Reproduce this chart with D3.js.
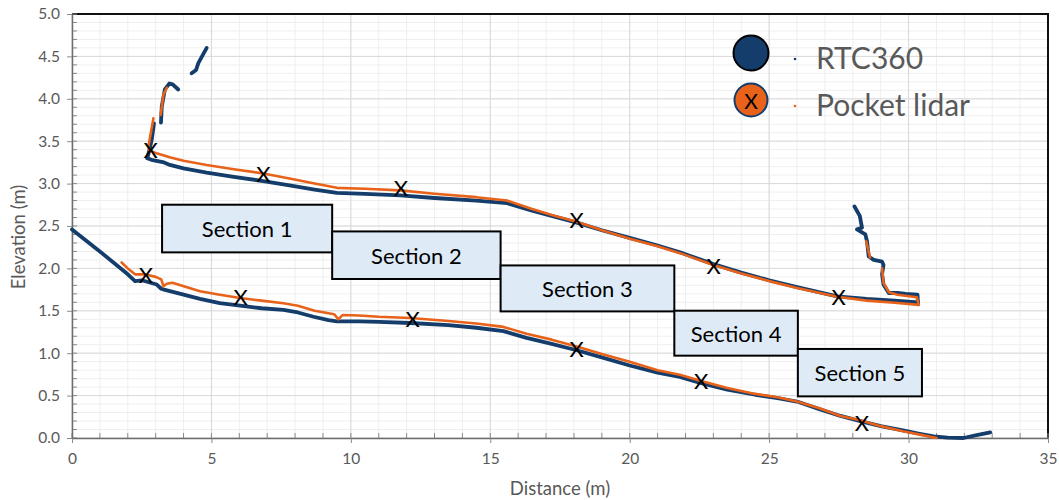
<!DOCTYPE html>
<html>
<head>
<meta charset="utf-8">
<script src="https://cdn.jsdelivr.net/npm/d3@7"></script>
<style>
  body { margin: 0; background: #fff; }
  svg { display: block; font-family: Lato, "Open Sans", sans-serif; }
</style>
</head>
<body>
<svg id="chart" width="1059" height="500"></svg>
<script>
// ---- Cross-section profiles: [distance (m), elevation (m)] ----
const rtcUpper = [[2.70,3.30],[2.85,3.28],[3.3,3.25],[3.51,3.22],[4.0,3.18],[4.83,3.13],[5.8,3.08],[6.86,3.03],[7.8,2.98],[8.7,2.93],[9.5,2.89],[10.5,2.88],[11.77,2.86],[13.0,2.83],[14.5,2.80],[15.6,2.77],[16.5,2.68],[17.3,2.61],[18.1,2.54],[19.0,2.45],[20.0,2.36],[21.0,2.27],[21.8,2.19],[23.0,2.05],[24.0,1.95],[25.0,1.86],[26.0,1.78],[27.44,1.67],[28.5,1.64],[29.5,1.62],[30.34,1.60]];
const rtcWallLeft = [[2.70,3.30],[2.78,3.40],[2.86,3.52],[2.94,3.71]];
const rtcWallMid = [[3.19,3.72],[3.22,3.91],[3.33,4.11],[3.49,4.18],[3.61,4.17],[3.81,4.11]];
const rtcWallTop = [[4.29,4.30],[4.45,4.34],[4.53,4.42],[4.83,4.60]];
const rtcWallRight = [[30.34,1.58],[30.32,1.69],[29.9,1.70],[29.6,1.71],[29.29,1.71],[29.1,1.81],[29.05,1.93],[29.1,2.04],[29.05,2.08],[28.75,2.10],[28.57,2.14],[28.51,2.32],[28.45,2.40],[28.15,2.46],[28.33,2.48],[28.25,2.62],[28.06,2.73]];
const rtcLower = [[0,2.46],[1.0,2.20],[2.0,1.93],[2.26,1.85],[2.5,1.86],[3.04,1.81],[3.2,1.76],[3.3,1.75],[4.0,1.69],[4.59,1.64],[5.3,1.59],[6.03,1.56],[6.8,1.53],[7.58,1.51],[8.1,1.48],[8.66,1.43],[9.2,1.39],[9.5,1.375],[10.3,1.375],[11.0,1.37],[12.13,1.356],[13.5,1.33],[14.5,1.30],[15.47,1.26],[16.3,1.18],[17.2,1.11],[18.1,1.035],[19.0,0.95],[20.0,0.855],[21.0,0.77],[21.8,0.72],[22.53,0.65],[23.5,0.57],[24.5,0.51],[25.3,0.47],[26.0,0.43],[26.8,0.34],[27.56,0.26],[28.27,0.20],[29.0,0.14],[29.8,0.09],[30.4,0.05],[30.9,0.02],[31.4,0.005],[31.97,0.0],[32.4,0.03],[32.93,0.066]];

const pocketUpper = [[2.75,3.40],[3.0,3.36],[3.3,3.33],[3.5,3.31],[4.0,3.27],[4.83,3.22],[5.8,3.17],[6.86,3.12],[7.8,3.06],[8.7,3.0],[9.5,2.95],[10.5,2.94],[11.77,2.92],[13.0,2.88],[14.5,2.84],[15.6,2.80],[16.5,2.70],[17.3,2.62],[18.1,2.55],[19.0,2.45],[20.0,2.35],[21.0,2.26],[21.8,2.18],[23.0,2.04],[24.0,1.94],[25.0,1.85],[26.0,1.77],[27.44,1.665],[28.5,1.62],[29.5,1.595],[30.36,1.57]];
const pocketWallLeft = [[2.74,3.44],[2.80,3.55],[2.86,3.66],[2.92,3.77]];
const pocketWallMid = [[3.18,3.81],[3.28,4.05],[3.40,4.13]];
const pocketWallRight = [[30.36,1.57],[30.3,1.66],[29.6,1.69],[29.29,1.72],[29.1,1.83],[29.05,2.0]];
const pocketWallRight2 = [[28.62,2.13],[28.55,2.22],[28.48,2.32]];
const pocketLower = [[1.78,2.07],[2.0,2.0],[2.26,1.93],[2.6,1.93],[3.0,1.90],[3.2,1.87],[3.28,1.79],[3.4,1.82],[3.6,1.83],[4.59,1.73],[5.3,1.69],[6.03,1.65],[6.8,1.62],[7.58,1.59],[8.1,1.56],[8.7,1.50],[9.4,1.46],[9.55,1.40],[9.7,1.45],[10.3,1.445],[11.0,1.43],[12.13,1.415],[13.5,1.38],[14.5,1.35],[15.47,1.31],[16.3,1.23],[17.2,1.16],[18.1,1.08],[19.0,0.99],[20.0,0.90],[21.0,0.80],[21.8,0.745],[22.53,0.675],[23.5,0.59],[24.5,0.52],[25.3,0.48],[26.0,0.43],[26.8,0.35],[27.56,0.26],[28.27,0.21],[29.0,0.14],[29.8,0.08],[30.4,0.04],[31.0,0.0]];

// Check points marked with "X"
const checkpoints = [[2.82,3.40],[6.86,3.125],[11.79,2.95],[18.1,2.575],[23.01,2.035],[27.49,1.67],
                     [2.65,1.925],[6.05,1.67],[12.22,1.415],[18.1,1.06],[22.56,0.68],[28.33,0.185]];

// Section labels and their distance ranges
const sectionNames = ["Section 1","Section 2","Section 3","Section 4","Section 5"];
const sectionStart = [3.23, 9.33, 15.37, 21.6, 26.03];
const sectionEnd   = [9.33, 15.37, 21.6, 26.03, 30.48];

const xTicks = [0,5,10,15,20,25,30,35];
const yTicks = [0,0.5,1.0,1.5,2.0,2.5,3.0,3.5,4.0,4.5,5.0];
const seriesNames = ["RTC360","Pocket lidar"];

// ---- Layout ----
const plotL = 72, plotR = 1048, plotT = 14, plotB = 438;
const BLUE = "#143d6b", ORANGE = "#e8621a", TEXT = "#595959";

const svg = d3.select("#chart");
const x = d3.scaleLinear().domain([0,35]).range([plotL,plotR]);
const y = d3.scaleLinear().domain([0,5]).range([plotB,plotT]);

// Grid: minor then major
const grid = svg.append("g");
grid.append("g").selectAll("line").data(d3.range(0,36,1)).join("line")
  .attr("x1", d => x(d)).attr("x2", d => x(d)).attr("y1", plotT).attr("y2", plotB)
  .attr("stroke", "#efefef").attr("stroke-width", 1);
grid.append("g").selectAll("line").data(d3.range(0,51,1).map(d => d/10)).join("line")
  .attr("y1", d => y(d)).attr("y2", d => y(d)).attr("x1", plotL).attr("x2", plotR)
  .attr("stroke", "#efefef").attr("stroke-width", 1);
grid.append("g").selectAll("line").data(xTicks).join("line")
  .attr("x1", d => x(d)).attr("x2", d => x(d)).attr("y1", plotT).attr("y2", plotB)
  .attr("stroke", "#d9d9d9").attr("stroke-width", 1);
grid.append("g").selectAll("line").data(yTicks).join("line")
  .attr("y1", d => y(d)).attr("y2", d => y(d)).attr("x1", plotL).attr("x2", plotR)
  .attr("stroke", "#d9d9d9").attr("stroke-width", 1);

// Plot frame (top and right)
svg.append("path")
  .attr("d", `M${plotL},${plotT}H${plotR}V${plotB}`)
  .attr("fill", "none").attr("stroke", "#111").attr("stroke-width", 2);

// Minor inward ticks
svg.append("g").selectAll("line").data(d3.range(0,51,1).map(d => d/10)).join("line")
  .attr("x1", plotL).attr("x2", plotL + 5).attr("y1", d => y(d)).attr("y2", d => y(d))
  .attr("stroke", "#8a8a8a").attr("stroke-width", 1);
svg.append("g").selectAll("line").data(d3.range(0,36,1)).join("line")
  .attr("y1", plotB).attr("y2", plotB - 5).attr("x1", d => x(d)).attr("x2", d => x(d))
  .attr("stroke", "#8a8a8a").attr("stroke-width", 1);

// Axes
const xAxis = svg.append("g").attr("transform", `translate(0,${plotB})`)
  .call(d3.axisBottom(x).tickValues(xTicks).tickSize(5).tickSizeOuter(0).tickPadding(10).tickFormat(d3.format("d")));
const yAxis = svg.append("g").attr("transform", `translate(${plotL},0)`)
  .call(d3.axisLeft(y).tickValues(yTicks).tickSize(5).tickSizeOuter(0).tickPadding(7).tickFormat(d3.format(".1f")));
[xAxis, yAxis].forEach(a => {
  a.select(".domain").attr("stroke", "#6e6e6e").attr("stroke-width", 1.5);
  a.selectAll(".tick line").attr("stroke", "#8a8a8a");
  a.selectAll(".tick text").attr("fill", TEXT).attr("font-size", 15.5).attr("font-family", "Lato, sans-serif");
});

// Axis titles
svg.append("text").attr("x", 560).attr("y", 495).attr("text-anchor", "middle")
  .attr("fill", TEXT).attr("font-size", 18.5).text("Distance (m)");
svg.append("text").attr("transform", "translate(25,237) rotate(-90)").attr("text-anchor", "middle")
  .attr("fill", TEXT).attr("font-size", 18.5).text("Elevation (m)");

// Profiles
const line = d3.line().x(d => x(d[0])).y(d => y(d[1]));
const rtcParts = [rtcUpper, rtcWallLeft, rtcWallMid, rtcWallTop, rtcWallRight, rtcLower];
const pocketParts = [pocketUpper, pocketWallLeft, pocketWallMid, pocketWallRight, pocketWallRight2, pocketLower];
svg.append("g").selectAll("path").data(rtcParts).join("path")
  .attr("d", line).attr("fill", "none").attr("stroke", BLUE)
  .attr("stroke-width", 3.8).attr("stroke-linejoin", "round").attr("stroke-linecap", "round");
svg.append("g").selectAll("path").data(pocketParts).join("path")
  .attr("d", line).attr("fill", "none").attr("stroke", ORANGE)
  .attr("stroke-width", 2.6).attr("stroke-linejoin", "round").attr("stroke-linecap", "round");

// Check point markers
svg.append("g").selectAll("text").data(checkpoints).join("text")
  .attr("x", d => x(d[0])).attr("y", d => y(d[1]))
  .attr("text-anchor", "middle").attr("dominant-baseline", "central")
  .attr("font-size", 22).attr("fill", "#000").text("X");

// Section boxes (vertical placement in elevation units)
const boxTop = [2.751, 2.436, 2.035, 1.501, 1.050];
const boxBottom = [2.189, 1.875, 1.493, 0.971, 0.491];
const boxes = svg.append("g").selectAll("g").data(sectionNames).join("g");
boxes.append("rect")
  .attr("x", (d,i) => x(sectionStart[i])).attr("width", (d,i) => x(sectionEnd[i]) - x(sectionStart[i]))
  .attr("y", (d,i) => y(boxTop[i])).attr("height", (d,i) => y(boxBottom[i]) - y(boxTop[i]))
  .attr("fill", "#deebf7").attr("stroke", "#000").attr("stroke-width", 2);
boxes.append("text")
  .attr("x", (d,i) => (x(sectionStart[i]) + x(sectionEnd[i])) / 2)
  .attr("y", (d,i) => (y(boxTop[i]) + y(boxBottom[i])) / 2)
  .attr("text-anchor", "middle").attr("dominant-baseline", "central")
  .attr("font-size", 22).attr("fill", "#000").text(d => d);

// Legend
const legend = svg.append("g");
legend.append("circle").attr("cx", 751).attr("cy", 53).attr("r", 17.5)
  .attr("fill", BLUE).attr("stroke", "#000").attr("stroke-width", 2);
legend.append("circle").attr("cx", 751).attr("cy", 100).attr("r", 16.5)
  .attr("fill", ORANGE).attr("stroke", BLUE).attr("stroke-width", 2);
legend.append("text").attr("x", 751).attr("y", 100).attr("text-anchor", "middle")
  .attr("dominant-baseline", "central").attr("font-size", 21).attr("fill", "#000").text("X");
legend.append("circle").attr("cx", 795).attr("cy", 59).attr("r", 1.3).attr("fill", BLUE);
legend.append("circle").attr("cx", 795).attr("cy", 106).attr("r", 1.3).attr("fill", ORANGE);
legend.selectAll(".lt").data(seriesNames).join("text")
  .attr("x", 816).attr("y", (d,i) => 69 + i * 47)
  .attr("font-size", 30).attr("fill", TEXT).text(d => d);
</script>
</body>
</html>
